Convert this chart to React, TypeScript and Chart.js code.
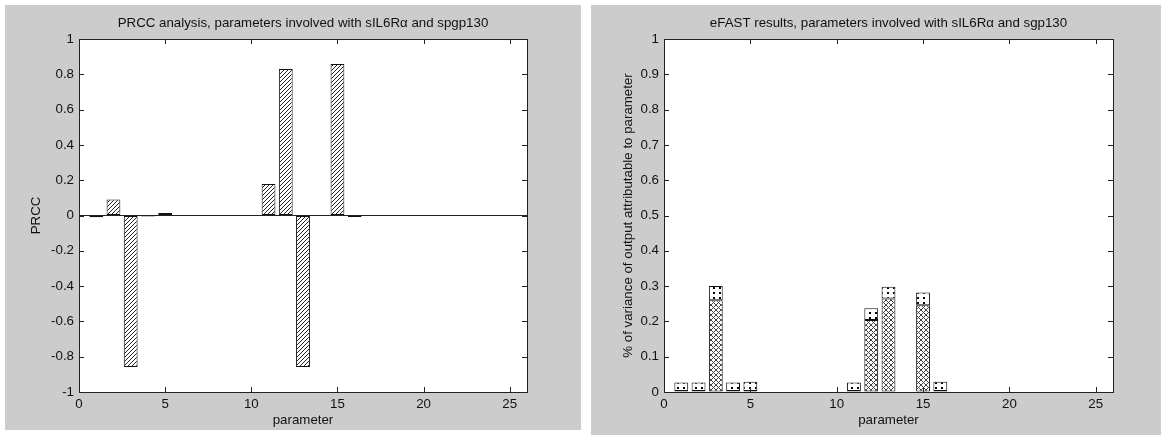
import React, { useEffect, useRef } from 'react';
import { Chart, registerables } from 'chart.js';

Chart.register(...registerables);

// ---- data ----
const parameters = [1, 2, 3, 4, 5, 6, 7, 8, 9, 10, 11, 12, 13, 14, 15, 16];
const prccValues = [-0.01, 0.09, -0.858, -0.006, 0.014, 0, 0, 0, 0, 0, 0.178, 0.83, -0.858, 0, 0.858, -0.008];
const efastFirstOrder = [0.003, 0.003, 0.26, 0.003, 0.003, 0, 0, 0, 0, 0, 0.003, 0.204, 0.265, 0, 0.246, 0.003];
const efastTotal = [0.027, 0.027, 0.3, 0.027, 0.029, 0, 0, 0, 0, 0, 0.027, 0.237, 0.298, 0, 0.282, 0.029];
const xTickStep = 5;
const xMin = 0;
const xMax = 26;
const prccTitle = 'PRCC analysis, parameters involved with sIL6R\u03B1 and spgp130';
const efastTitle = 'eFAST results, parameters involved with sIL6R\u03B1 and sgp130';
const prccYLabel = 'PRCC';
const efastYLabel = '% of variance of output attributable to parameter';
const xLabel = 'parameter';

const FAMILY = '"Liberation Sans", Arial, Helvetica, sans-serif';
const FONT = { family: FAMILY, size: 13.3 };
const TEXT = '#111';
const AXIS = '#222';

function makePattern(kind: string): CanvasPattern | string {
  const c = document.createElement('canvas');
  const ctx = c.getContext('2d');
  if (!ctx) return '#fff';
  if (kind === 'diag') {
    const s = 4;
    c.width = s; c.height = s;
    ctx.fillStyle = '#fff';
    ctx.fillRect(0, 0, s, s);
    ctx.strokeStyle = '#222';
    ctx.lineWidth = 1;
    ctx.beginPath();
    ctx.moveTo(-1, s + 1); ctx.lineTo(s + 1, -1);
    ctx.moveTo(-1, 1); ctx.lineTo(1, -1);
    ctx.moveTo(s - 1, s + 1); ctx.lineTo(s + 1, s - 1);
    ctx.stroke();
  } else if (kind === 'cross') {
    const s = 5;
    c.width = s; c.height = s;
    ctx.fillStyle = '#fff';
    ctx.fillRect(0, 0, s, s);
    ctx.strokeStyle = '#444';
    ctx.lineWidth = 1;
    ctx.beginPath();
    ctx.moveTo(-1, s + 1); ctx.lineTo(s + 1, -1);
    ctx.moveTo(-1, -1); ctx.lineTo(s + 1, s + 1);
    ctx.stroke();
  } else {
    c.width = 6; c.height = 5;
    ctx.fillStyle = '#fff';
    ctx.fillRect(0, 0, 6, 5);
    ctx.fillStyle = '#000';
    ctx.fillRect(2, 2, 2, 2);
  }
  return ctx.createPattern(c, 'repeat') || '#fff';
}

const boxPlugin = {
  id: 'matlabBox',
  beforeDraw(chart: any) {
    const { ctx, chartArea: a } = chart;
    ctx.save();
    ctx.fillStyle = '#fff';
    ctx.fillRect(a.left, a.top, a.right - a.left, a.bottom - a.top);
    ctx.restore();
  },
  afterDraw(chart: any) {
    const { ctx, chartArea: a, scales } = chart;
    ctx.save();
    ctx.strokeStyle = AXIS;
    ctx.lineWidth = 1;
    ctx.strokeRect(Math.round(a.left) + 0.5, Math.round(a.top) + 0.5, Math.round(a.right - a.left), Math.round(a.bottom - a.top));
    const len = 5;
    ctx.beginPath();
    for (const t of scales.x.ticks) {
      const px = Math.round(scales.x.getPixelForValue(t.value)) + 0.5;
      ctx.moveTo(px, a.bottom); ctx.lineTo(px, a.bottom - len);
      ctx.moveTo(px, a.top); ctx.lineTo(px, a.top + len);
    }
    for (const t of scales.y.ticks) {
      const py = Math.round(scales.y.getPixelForValue(t.value)) + 0.5;
      ctx.moveTo(a.left, py); ctx.lineTo(a.left + len, py);
      ctx.moveTo(a.right, py); ctx.lineTo(a.right - len, py);
    }
    ctx.stroke();
    // title centred over the axes box
    const title = chart.options.plugins.axesTitle?.text;
    if (title) {
      ctx.fillStyle = TEXT;
      ctx.font = `${FONT.size}px ${FAMILY}`;
      ctx.textAlign = 'center';
      ctx.textBaseline = 'middle';
      ctx.fillText(title, (a.left + a.right) / 2, a.top - 16);
    }
    ctx.restore();
  },
};

function fmt(v: number) {
  return String(Number(v.toFixed(2)));
}

function baseOptions(title: string, yLabel: string, yTitlePad: number, yMin: number, yMax: number, yStep: number, rightPad: number, yWidth: number, stacked: boolean): any {
  return {
    responsive: false,
    animation: false,
    events: [],
    devicePixelRatio: 1,
    layout: { padding: { left: 0, right: rightPad, top: 34, bottom: 0 } },
    plugins: {
      legend: { display: false },
      tooltip: { enabled: false },
      title: { display: false },
      axesTitle: { text: title },
    },
    scales: {
      x: {
        type: 'linear',
        min: xMin,
        max: xMax,
        offset: false,
        stacked,
        grid: { display: false, offset: false, drawTicks: false },
        border: { display: false },
        ticks: { stepSize: xTickStep, includeBounds: false, color: TEXT, font: FONT, padding: 4, maxRotation: 0, callback: (v: number) => fmt(v) },
        title: { display: true, text: xLabel, color: TEXT, font: FONT, padding: { top: 0, bottom: 2 } },
        afterFit: (s: any) => { s.height = 38; },
      },
      y: {
        type: 'linear',
        min: yMin,
        max: yMax,
        stacked,
        grid: {
          drawTicks: false,
          color: (c: any) => (c.tick && c.tick.value === 0 && yMin < 0 ? AXIS : 'rgba(0,0,0,0)'),
          lineWidth: 1,
        },
        border: { display: false },
        ticks: { stepSize: yStep, color: TEXT, font: FONT, padding: 5, callback: (v: number) => fmt(v) },
        title: { display: true, text: yLabel, color: TEXT, font: FONT, padding: { top: yTitlePad, bottom: 0 } },
        afterFit: (s: any) => { s.width = yWidth; },
      },
    },
  };
}

function PrccChart() {
  const ref = useRef<HTMLCanvasElement>(null);
  useEffect(() => {
    if (!ref.current) return;
    const diag = makePattern('diag');
    const chart = new Chart(ref.current, {
      type: 'bar',
      data: {
        datasets: [
          {
            data: parameters.map((p, i) => ({ x: p, y: prccValues[i] })),
            backgroundColor: diag as any,
            borderColor: '#111',
            borderWidth: 1,
            borderSkipped: false,
            barPercentage: 0.8,
            categoryPercentage: 1,
          },
        ],
      },
      options: baseOptions(prccTitle, prccYLabel, 23, -1, 1, 0.2, 54, 74, false),
      plugins: [boxPlugin],
    });
    return () => chart.destroy();
  }, []);
  return <canvas ref={ref} width={576} height={425} style={{ display: 'block' }} />;
}

function EfastChart() {
  const ref = useRef<HTMLCanvasElement>(null);
  useEffect(() => {
    if (!ref.current) return;
    const cross = makePattern('cross');
    const dots = makePattern('dots');
    const chart = new Chart(ref.current, {
      type: 'bar',
      data: {
        datasets: [
          {
            data: parameters.map((p, i) => ({ x: p, y: efastFirstOrder[i] })),
            backgroundColor: cross as any,
            borderColor: '#111',
            borderWidth: 1,
            borderSkipped: false,
            barPercentage: 0.8,
            categoryPercentage: 1,
          },
          {
            data: parameters.map((p, i) => ({ x: p, y: efastTotal[i] - efastFirstOrder[i] })),
            backgroundColor: dots as any,
            borderColor: '#111',
            borderWidth: 1,
            borderSkipped: false,
            barPercentage: 0.8,
            categoryPercentage: 1,
          },
        ],
      },
      options: baseOptions(efastTitle, efastYLabel, 29, 0, 1, 0.1, 48, 73, true),
      plugins: [boxPlugin],
    });
    return () => chart.destroy();
  }, []);
  return <canvas ref={ref} width={570} height={425} style={{ display: 'block' }} />;
}

export default function App() {
  return (
    <div style={{ position: 'absolute', left: 0, top: 0, width: 1161, height: 435, background: '#fff', overflow: 'hidden' }}>
      <div style={{ position: 'absolute', left: 5, top: 5, width: 576, height: 425, background: '#cccccc' }}>
        <PrccChart />
      </div>
      <div style={{ position: 'absolute', left: 591, top: 5, width: 570, height: 430, background: '#cccccc' }}>
        <EfastChart />
      </div>
    </div>
  );
}
